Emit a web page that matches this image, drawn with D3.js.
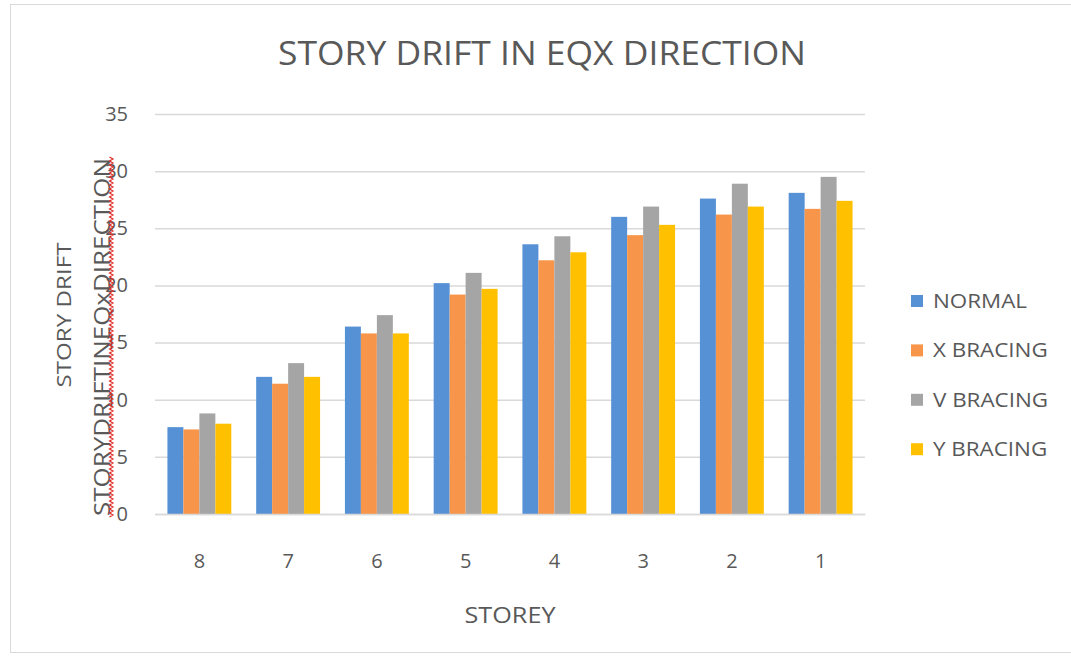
<!DOCTYPE html>
<html>
<head>
<meta charset="utf-8">
<script src="https://cdn.jsdelivr.net/npm/d3@7"></script>
<style>
    body { margin: 0; background: #fff; }
    text { font-family: "Open Sans", "Noto Sans", sans-serif; fill: #595959; }
</style>
</head>
<body>
<div id="chart"></div>
<script>
// storey labels, left to right as in the picture
let storeys = ["8", "7", "6", "5", "4", "3", "2", "1"];
let seriesNames = ["NORMAL", "X BRACING", "V BRACING", "Y BRACING"];
let seriesColors = ["#5690D5", "#F7964A", "#A5A5A5", "#FFC000"];

let normal   = [7.6, 12.0, 16.4, 20.2, 23.6, 26.0, 27.6, 28.1];
let xBracing = [7.4, 11.4, 15.8, 19.2, 22.2, 24.4, 26.2, 26.7];
let vBracing = [8.8, 13.2, 17.4, 21.1, 24.3, 26.9, 28.9, 29.5];
let yBracing = [7.9, 12.0, 15.8, 19.7, 22.9, 25.3, 26.9, 27.4];

let yTicks = [0, 5, 10, 15, 20, 25, 30, 35];

let seriesValues = [normal, xBracing, vBracing, yBracing];

let width = 1071, height = 663;
let margin = { top: 114, left: 155, right: 206, bottom: 149 };
let plotW = width - margin.left - margin.right;
let plotH = height - margin.top - margin.bottom;

let svg = d3.select("#chart").append("svg")
    .attr("width", width)
    .attr("height", height);

// outer chart frame
svg.append("rect")
    .attr("x", 10.5).attr("y", 4.5)
    .attr("width", 1070).attr("height", 648)
    .attr("fill", "none")
    .attr("stroke", "#d9d9d9");

let plot = svg.append("g")
    .attr("transform", `translate(${margin.left},${margin.top})`);

let xScale = d3.scaleBand()
    .domain(storeys)
    .range([0, plotW])
    .paddingInner(0.28)
    .paddingOuter(0.14);

let xInner = d3.scaleBand()
    .domain(seriesNames)
    .range([0, xScale.bandwidth()]);

let yScale = d3.scaleLinear()
    .domain([0, 35])
    .range([plotH, 0]);

// gridlines
let yAxis = d3.axisLeft(yScale)
    .tickValues(yTicks)
    .tickSize(-plotW)
    .tickPadding(27)
    .tickFormat(d3.format("d"));

let yG = plot.append("g").call(yAxis);
yG.select(".domain").remove();
yG.selectAll(".tick line")
    .attr("stroke", "#d9d9d9")
    .attr("stroke-width", 1.5);
yG.selectAll(".tick text")
    .style("font-size", "20px")
    .attr("fill", "#595959");

// bars
let groups = plot.selectAll(".grp")
    .data(storeys)
    .enter().append("g")
    .attr("transform", d => `translate(${xScale(d)},0)`);

groups.selectAll("rect")
    .data((d, i) => seriesNames.map((s, j) => ({ s: s, v: seriesValues[j][i], c: seriesColors[j] })))
    .enter().append("rect")
    .attr("x", d => xInner(d.s))
    .attr("width", xInner.bandwidth())
    .attr("y", d => yScale(d.v))
    .attr("height", d => plotH - yScale(d.v))
    .attr("fill", d => d.c);

// x axis
let xAxis = d3.axisBottom(xScale).tickSize(0).tickPadding(40);
let xG = plot.append("g")
    .attr("transform", `translate(0,${plotH})`)
    .call(xAxis);
xG.select(".domain").attr("stroke", "#d9d9d9").attr("stroke-width", 1.5);
xG.selectAll(".tick text").style("font-size", "20px").attr("fill", "#595959");

// title
svg.append("text")
    .attr("x", 542).attr("y", 65)
    .attr("text-anchor", "middle")
    .attr("textLength", 528)
    .attr("lengthAdjust", "spacingAndGlyphs")
    .style("font-size", "32px")
    .text("STORY DRIFT IN EQX DIRECTION");

// x axis title
svg.append("text")
    .attr("x", 510).attr("y", 623)
    .attr("text-anchor", "middle")
    .attr("textLength", 91)
    .attr("lengthAdjust", "spacingAndGlyphs")
    .style("font-size", "21px")
    .text("STOREY");

// y axis title
svg.append("text")
    .attr("transform", "translate(71,315) rotate(-90)")
    .attr("text-anchor", "middle")
    .attr("textLength", 145)
    .attr("lengthAdjust", "spacingAndGlyphs")
    .style("font-size", "20px")
    .text("STORY DRIFT");

// stray text box over the tick labels
svg.append("text")
    .attr("transform", "translate(110,337) rotate(-90)")
    .attr("text-anchor", "middle")
    .attr("textLength", 358)
    .attr("lengthAdjust", "spacingAndGlyphs")
    .style("font-size", "21px")
    .text("STORYDRIFTINEQxDIRECTION");

// spell-check squiggle
let wave = d3.range(157, 518, 2).map((y, i) => [111 + (i % 2 ? 2 : -1.5), y]);
svg.append("path")
    .attr("d", d3.line()(wave))
    .attr("fill", "none")
    .attr("stroke", "#e0302a")
    .attr("stroke-width", 1.2);

// legend
let legend = svg.append("g")
    .attr("transform", "translate(911,301)");

let items = legend.selectAll("g")
    .data(seriesNames)
    .enter().append("g")
    .attr("transform", (d, i) => `translate(0,${i * 49.4})`);

items.append("rect")
    .attr("x", 0).attr("y", -6)
    .attr("width", 12).attr("height", 12)
    .attr("fill", (d, i) => seriesColors[i]);

items.append("text")
    .attr("transform", "translate(22,7) scale(1.12,1)")
    .style("font-size", "20px")
    .text(d => d);
</script>
</body>
</html>
